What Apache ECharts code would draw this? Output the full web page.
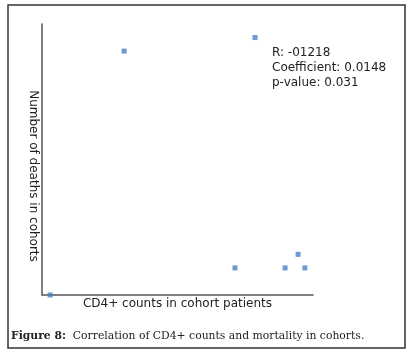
<!DOCTYPE html>
<html>
<head>
<meta charset="utf-8">
<script src="https://cdn.jsdelivr.net/npm/echarts@6/dist/echarts.min.js"></script>
<style>
html,body{margin:0;padding:0;background:#fff;}
#chart{width:412px;height:356px;}
</style>
</head>
<body>
<div id="chart"></div>
<script>
// CD4+ counts (arbitrary units) and deaths per cohort
const cd4Counts = [30, 303, 712, 786, 897, 945, 970];
const deaths = [0, 18, 2, 19, 2, 3, 2];
const statsLines = ['R: -01218', 'Coefficient: 0.0148', 'p-value: 0.031'];
const xAxisTitle = 'CD4+ counts in cohort patients';
const yAxisTitle = 'Number of deaths in cohorts';
const captionLabel = 'Figure 8:';
const captionText = 'Correlation of CD4+ counts and mortality in cohorts.';

const points = cd4Counts.map((x, i) => [x, deaths[i]]);

const chart = echarts.init(document.getElementById('chart'), null, {renderer: 'canvas'});
chart.setOption({
  animation: false,
  backgroundColor: '#fff',
  grid: {left: 42, top: 24, width: 271, height: 271},
  xAxis: {
    type: 'value', min: 0, max: 1000,
    name: xAxisTitle, nameLocation: 'middle', nameGap: 3,
    nameTextStyle: {fontFamily: 'DejaVu Sans', fontSize: 12, color: '#222', verticalAlign: 'top'},
    axisLine: {show: true, lineStyle: {color: '#555', width: 1.5}},
    axisTick: {show: false}, axisLabel: {show: false}, splitLine: {show: false}
  },
  yAxis: {
    type: 'value', min: 0, max: 20,
    axisLine: {show: true, onZero: false, lineStyle: {color: '#555', width: 1.5}},
    axisTick: {show: false}, axisLabel: {show: false}, splitLine: {show: false}
  },
  series: [{
    type: 'scatter',
    data: points,
    symbol: 'rect',
    symbolSize: 5,
    itemStyle: {color: '#4a7fc8'}
  }],
  graphic: [
    {type: 'rect', shape: {x: 8, y: 5, width: 397, height: 343},
     style: {fill: 'none', stroke: '#333', lineWidth: 1.5}, silent: true},
    {type: 'text', x: 33.5, y: 176, rotation: -Math.PI / 2,
     style: {text: yAxisTitle, fontFamily: 'DejaVu Sans', fontSize: 12, fill: '#222',
             align: 'center', verticalAlign: 'middle'}},
    {type: 'text', left: 272, top: 45,
     style: {text: statsLines.join('\n'), fontFamily: 'DejaVu Sans', fontSize: 12, lineHeight: 15, fill: '#222'}},
    {type: 'text', left: 11, top: 331,
     style: {
       text: '{b|' + captionLabel + '}  ' + captionText,
       fontFamily: 'DejaVu Serif', fontSize: 10.8, fill: '#222',
       rich: {b: {fontFamily: 'DejaVu Serif', fontSize: 10.8, fontWeight: 'bold', fill: '#222'}}
     }}
  ]
});
</script>
</body>
</html>
